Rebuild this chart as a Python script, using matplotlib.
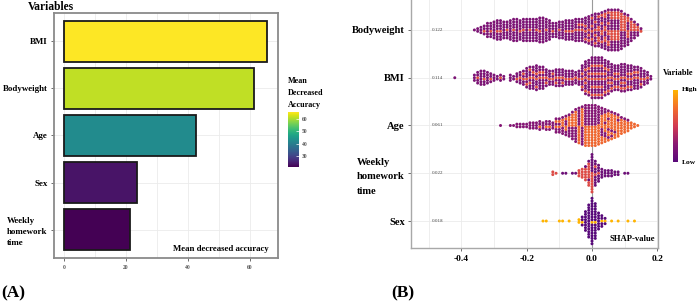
import numpy as np
import matplotlib
matplotlib.use("Agg")
import matplotlib.pyplot as plt
from matplotlib.colors import LinearSegmentedColormap, Normalize
from matplotlib.cm import ScalarMappable

plt.rcParams['font.family'] = ['Liberation Serif', 'DejaVu Serif']
plt.rcParams['font.weight'] = 'bold'

# ---------------- data: panel A ----------------
A_vars = ["BMI", "Bodyweight", "Age", "Sex", "Weekly\nhomework\ntime"]
A_vals = [65.5, 61.2, 42.5, 23.7, 21.3]
A_xticks = [0, 20, 40, 60]
A_cbticks = [30, 40, 50, 60]

# ---------------- data: panel B ----------------
B_vars = ["Bodyweight", "BMI", "Age", "Weekly\nhomework\ntime", "Sex"]
B_mean = ["0.122", "0.114", "0.061", "0.022", "0.018"]
B_xticks = [-0.4, -0.2, 0.0, 0.2]
B_xticklabels = ["-0.4", "-0.2", "0.0", "0.2"]

BW_x = [-0.36, -0.35, -0.34, -0.33, -0.32, -0.31, -0.30, -0.29, -0.28, -0.27,
        -0.26, -0.25, -0.24, -0.23, -0.22, -0.21, -0.20, -0.19, -0.18, -0.17,
        -0.16, -0.15, -0.14, -0.13, -0.12, -0.11, -0.10, -0.09, -0.08, -0.07,
        -0.06, -0.05, -0.04, -0.03, -0.02, -0.01, 0.00, 0.01, 0.02, 0.03,
        0.04, 0.05, 0.06, 0.07, 0.08, 0.09, 0.10, 0.11, 0.12, 0.13,
        0.14, 0.15]
BW_n = [1, 2, 3, 4, 6, 6, 7, 8, 8, 7, 7, 8, 9, 9, 8, 9, 9, 9, 9, 9,
        10, 10, 9, 8, 6, 6, 7, 7, 8, 8, 8, 9, 9, 9, 10, 11, 12, 13, 13, 14,
        15, 16, 16, 16, 16, 15, 13, 12, 9, 7, 5, 2]
BW_hi = [0, 0, 0, 1, 0, 1, 0, 1, 1, 0, 1, 0, 1, 0, 1, 1, 0, 1, 0, 1,
         1, 0, 1, 0, 1, 0, 1, 0, 1, 1, 1, 1, 2, 2, 3, 3, 4, 4, 5, 5,
         6, 6, 7, 7, 7, 7, 6, 5, 4, 3, 2, 1]

BMI_x = [-0.42, -0.36, -0.35, -0.34, -0.33, -0.32, -0.31, -0.30, -0.29, -0.28, -0.27,
         -0.25, -0.24, -0.23, -0.22, -0.21, -0.20, -0.19, -0.18, -0.17, -0.16,
         -0.15, -0.14, -0.13, -0.12, -0.11, -0.10, -0.09, -0.08, -0.07, -0.06,
         -0.05, -0.04, -0.03, -0.02, -0.01, 0.00, 0.01, 0.02, 0.03, 0.04,
         0.05, 0.06, 0.07, 0.08, 0.09, 0.10, 0.11, 0.12, 0.13, 0.14,
         0.15, 0.16, 0.17, 0.18]
BMI_n = [1, 3, 5, 6, 6, 5, 4, 3, 2, 3, 2,
         3, 2, 4, 5, 6, 8, 9, 9, 10, 9,
         9, 7, 6, 6, 7, 7, 7, 6, 6, 6,
         5, 6, 10, 13, 14, 16, 16, 16, 16, 14,
         13, 11, 10, 10, 11, 11, 10, 10, 9, 9,
         8, 6, 5, 2]
BMI_hi = [0, 0, 1, 0, 1, 0, 1, 0, 0, 1, 0,
          0, 0, 1, 1, 2, 2, 3, 2, 3, 2,
          2, 2, 1, 2, 2, 1, 2, 1, 1, 1,
          1, 1, 3, 4, 4, 5, 5, 5, 5, 4,
          4, 3, 3, 3, 3, 3, 3, 3, 2, 2,
          2, 1, 1, 0]

AGE_x = [-0.28, -0.25, -0.24,
         -0.23, -0.22, -0.21, -0.20, -0.19, -0.18, -0.17, -0.16, -0.15, -0.14,
         -0.13, -0.12, -0.11, -0.10, -0.09, -0.08, -0.07, -0.06, -0.05, -0.04,
         -0.03, -0.02, -0.01, 0.00, 0.01, 0.02, 0.03, 0.04, 0.05, 0.06,
         0.07, 0.08, 0.09, 0.10, 0.11, 0.12, 0.13, 0.14]
AGE_n = [1, 1, 1,
         2, 2, 2, 2, 3, 3, 3, 4, 3, 4,
         4, 3, 6, 6, 7, 8, 9, 11, 13, 14,
         15, 16, 16, 16, 16, 15, 14, 13, 12, 11,
         10, 9, 7, 6, 5, 3, 2, 1]
AGE_hi = [0, 0, 0,
          0, 0, 0, 0, 0, 0, 0, 1, 0, 1,
          1, 0, 2, 2, 3, 3, 4, 5, 6, 7,
          7, 8, 8, 8, 8, 8, 8, 8, 8, 8,
          8, 7, 6, 5, 4, 3, 2, 1]

WK_x = [-0.12, -0.11, -0.09, -0.08, -0.06, -0.05, -0.04, -0.03, -0.02, -0.01, 0.00,
        0.01, 0.02, 0.03, 0.04, 0.05, 0.06, 0.07, 0.08, 0.10, 0.11]
WK_n = [2, 1, 1, 1, 1, 1, 3, 4, 6, 10, 15, 10, 7, 4, 3, 3, 3, 2, 2, 1, 1]
WK_hi = [2, 1, 0, 0, 0, 0, 3, 4, 5, 8, 8, 2, 1, 0, 0, 0, 0, 0, 0, 0, 0]

SX_x = [-0.15, -0.14, -0.10, -0.09, -0.07, -0.04, -0.03, -0.02, -0.01, 0.00,
        0.01, 0.02, 0.03, 0.04, 0.06, 0.08, 0.11, 0.13]
SX_n = [1, 1, 1, 1, 1, 2, 4, 8, 13, 18, 14, 7, 5, 3, 1, 1, 1, 1]
SX_hi = [1, 1, 1, 1, 1, 2, 1, 0, 0, 1, 1, 0, 1, 1, 1, 1, 1, 1]

# feature-value colour (0 = low, 1 = high) for low / high dots of each row
B_lowval = [0.18, 0.18, 0.22, 0.10, 0.0]
B_highval = [0.60, 0.62, 0.72, 0.58, 1.0]

# ---------------- figure ----------------
W, H = 699, 304
fig = plt.figure(figsize=(W / 100, H / 100), dpi=100)


def box(x0, y0, x1, y1):
    return [x0 / W, 1 - y1 / H, (x1 - x0) / W, (y1 - y0) / H]


def ftext(x, y, s, **kw):
    fig.text(x / W, 1 - y / H, s, **kw)


GRID = '#ebebeb'
SPINE = '#8a8a8a'

# ---------------- panel A ----------------
axA = fig.add_axes(box(54, 13, 278, 258))
normA = Normalize(vmin=min(A_vals), vmax=max(A_vals))
cmapA = plt.get_cmap('viridis')
posA = np.arange(len(A_vars))[::-1]
axA.barh(posA, A_vals, height=0.88, color=cmapA(normA(np.array(A_vals))),
         edgecolor='#1a1a1a', linewidth=1.3, zorder=3)
axA.set_xlim(-3.2, 69)
axA.set_ylim(-0.6, 4.6)
axA.set_xticks(A_xticks)
axA.set_xticks([10, 30, 50], minor=True)
axA.set_yticks(posA)
axA.set_yticklabels(A_vars, fontsize=6.4, fontweight='bold', multialignment='left',
                    linespacing=1.5)
axA.tick_params(axis='x', labelsize=4, colors='#555555', length=2, width=0.6, pad=3)
axA.tick_params(axis='x', which='minor', length=0)
axA.tick_params(axis='y', length=2.5, width=0.6, color='#555555', labelcolor='black', pad=2)
axA.grid(True, which='both', color=GRID, linewidth=0.6, zorder=0)
axA.set_axisbelow(True)
for sp in axA.spines.values():
    sp.set_color(SPINE)
    sp.set_linewidth(1.3)
axA.text(66.1, -0.40, "Mean decreased accuracy", ha='right', va='center',
         fontsize=6.3, fontweight='bold', zorder=5)

caxA = fig.add_axes(box(288, 112, 299, 167))
cbA = fig.colorbar(ScalarMappable(norm=normA, cmap=cmapA), cax=caxA, ticks=A_cbticks)
cbA.outline.set_visible(False)
caxA.tick_params(labelsize=4, colors='#555555', length=2, width=0.5, pad=2)
caxA.tick_params(axis='y', color='white', direction='in')

ftext(28, 1, "Variables", ha='left', va='top', fontsize=8.3, fontweight='bold')
ftext(288, 77, "Mean\nDecreased\nAccuracy", ha='left', va='top', fontsize=5.9,
      fontweight='bold', linespacing=1.65)
ftext(1, 293, "(A)", ha='left', va='center', fontsize=12.5, fontweight='bold')

# ---------------- panel B ----------------
axB = fig.add_axes(box(411, -2.5, 658, 248))
cmapB = LinearSegmentedColormap.from_list(
    'shapcol', ['#58097a', '#8a1873', '#d23b52', '#f36d2c', '#ffb400'])

DY = 0.056


def swarm(xs, ns, his, row, lo, hi):
    px, py, pc = [], [], []
    for x, n, h in zip(xs, ns, his):
        offs = (np.arange(n) - (n - 1) / 2) * DY
        order = np.argsort(np.abs(offs), kind='stable')
        for i, k in enumerate(order):
            c1 = -((-(i + 1) * h) // n)
            c0 = -((-i * h) // n)
            px.append(x)
            py.append(row + offs[k])
            pc.append(hi if c1 > c0 else lo)
    return px, py, pc


rows_data = [(BW_x, BW_n, BW_hi), (BMI_x, BMI_n, BMI_hi), (AGE_x, AGE_n, AGE_hi),
             (WK_x, WK_n, WK_hi), (SX_x, SX_n, SX_hi)]
posB = np.arange(len(B_vars))[::-1]
for (xs, ns, hs), row, lo, hi in zip(rows_data, posB, B_lowval, B_highval):
    px, py, pc = swarm(xs, ns, hs, row, lo, hi)
    axB.scatter(px, py, c=pc, cmap=cmapB, vmin=0, vmax=1, s=4.6, linewidths=0, zorder=3)

for row, lab in zip(posB, B_mean):
    axB.text(-0.474, row, lab, ha='center', va='center', fontsize=3.6,
             fontweight='normal', color='#444444', zorder=4)

axB.axvline(0, color='#9a9a9a', linewidth=0.8, zorder=1)
axB.set_xlim(-0.554, 0.202)
axB.set_ylim(-0.565, 4.68)
axB.set_xticks(B_xticks)
axB.set_xticklabels(B_xticklabels)
axB.set_xticks([-0.5, -0.3, -0.1, 0.1], minor=True)
axB.set_yticks(posB)
axB.set_yticklabels(B_vars, fontsize=7.6, fontweight='bold', multialignment='left',
                    linespacing=1.75)
axB.tick_params(axis='x', labelsize=6.8, colors='black', length=2, width=0.6,
                color='#555555', pad=3)
axB.tick_params(axis='x', which='minor', length=0)
axB.tick_params(axis='y', length=2.5, width=0.6, color='#555555', pad=2)
for lab in axB.get_xticklabels():
    lab.set_fontweight('bold')
axB.grid(True, which='both', color=GRID, linewidth=0.6, zorder=0)
axB.set_axisbelow(True)
for sp in axB.spines.values():
    sp.set_color('#a8a8a8')
    sp.set_linewidth(1.0)
axB.text(0.193, -0.377, "SHAP-value", ha='right', va='center', fontsize=6.2,
         fontweight='bold', zorder=5)

caxB = fig.add_axes(box(673, 90, 678, 162))
cbB = fig.colorbar(ScalarMappable(norm=Normalize(0, 1), cmap=cmapB), cax=caxB, ticks=[])
cbB.outline.set_visible(False)
ftext(663, 73, "Variable", ha='left', va='center', fontsize=6.0, fontweight='bold')
ftext(682, 90, "High", ha='left', va='center', fontsize=5.4, fontweight='bold')
ftext(682, 162, "Low", ha='left', va='center', fontsize=5.4, fontweight='bold')
ftext(391, 293, "(B)", ha='left', va='center', fontsize=12.5, fontweight='bold')

fig.savefig("out.png", dpi=100)
